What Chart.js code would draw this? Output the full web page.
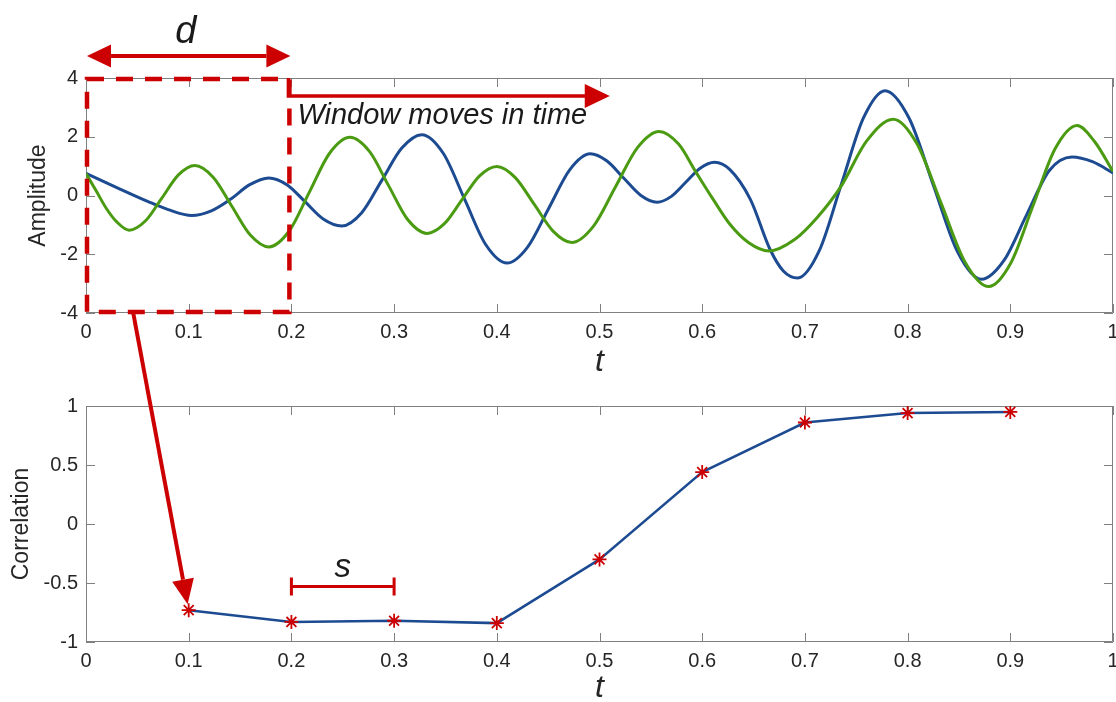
<!DOCTYPE html>
<html>
<head>
<meta charset="utf-8">
<script src="https://cdn.jsdelivr.net/npm/chart.js@4.4.1/dist/chart.umd.min.js"></script>
<style>
  html, body { margin: 0; padding: 0; background: #fff; }
  #wrap { position: relative; width: 1116px; height: 702px; overflow: hidden; }
  #wrap canvas { position: absolute; left: 0; }
  #ampChart { top: 0; }
  #corrChart { top: 380px; }
  #overlay { top: 0; pointer-events: none; }
</style>
</head>
<body>
<div id="wrap">
  <canvas id="ampChart" width="1116" height="380"></canvas>
  <canvas id="corrChart" width="1116" height="322"></canvas>
  <canvas id="overlay" width="1116" height="702"></canvas>
</div>
<script>
// tick labels
const tTicks = [0, 0.1, 0.2, 0.3, 0.4, 0.5, 0.6, 0.7, 0.8, 0.9, 1];
const ampTicks = [-4, -2, 0, 2, 4];
const corrTicks = [-1, -0.5, 0, 0.5, 1];

// signal 1 (blue)
const blueT = [0, 0.03, 0.06, 0.08, 0.103, 0.122, 0.141, 0.159, 0.178, 0.196, 0.2135, 0.231, 0.249,
  0.2685, 0.288, 0.3075, 0.327, 0.348, 0.3685, 0.389, 0.41, 0.43, 0.4505, 0.471, 0.491,
  0.507, 0.5235, 0.54, 0.556, 0.57, 0.584, 0.598, 0.612, 0.627, 0.647, 0.666, 0.679, 0.693,
  0.714, 0.7355, 0.757, 0.778, 0.8015, 0.825, 0.8485, 0.872, 0.894, 0.916, 0.938, 0.96, 0.98, 1];
const blueV = [0.75, 0.27, -0.2, -0.48, -0.68, -0.52, -0.12, 0.36, 0.6, 0.36, -0.22, -0.8, -1.04,
  -0.585, 0.515, 1.615, 2.07, 1.43, -0.115, -1.66, -2.3, -1.755, -0.44, 0.875, 1.42,
  1.18, 0.595, 0.01, -0.23, -0.03, 0.45, 0.93, 1.13, 0.88, -0.14, -1.83, -2.57, -2.81,
  -1.88, 0.38, 2.64, 3.57, 2.63, 0.36, -1.91, -2.85, -2.2, -0.65, 0.85, 1.31, 1.15, 0.77];

// signal 2 (green)
const greenT = [0, 0.01, 0.02, 0.03, 0.042, 0.058, 0.074, 0.09, 0.106, 0.124, 0.142, 0.16, 0.178,
  0.198, 0.2175, 0.237, 0.257, 0.276, 0.2945, 0.313, 0.332, 0.349, 0.366, 0.383, 0.4,
  0.418, 0.4365, 0.455, 0.473, 0.494, 0.5155, 0.537, 0.558, 0.577, 0.594, 0.611, 0.627, 0.645,
  0.665, 0.69, 0.712, 0.735, 0.76, 0.786, 0.809, 0.8325, 0.856, 0.879, 0.9005, 0.922,
  0.9435, 0.965, 0.982, 1];
const greenV = [0.75, 0.15, -0.45, -0.9, -1.18, -0.86, -0.08, 0.7, 1.02, 0.615, -0.365, -1.345, -1.75,
  -1.2, 0.115, 1.43, 1.98, 1.5, 0.345, -0.81, -1.29, -0.96, -0.15, 0.66, 0.99,
  0.61, -0.305, -1.22, -1.6, -1.05, 0.29, 1.63, 2.18, 1.75, 0.79, -0.15, -0.98, -1.6,
  -1.89, -1.5, -0.75, 0.3, 1.85, 2.6, 1.77, -0.25, -2.27, -3.1, -2.3, -0.36,
  1.58, 2.38, 1.84, 0.82];

// windowed correlation
const windowT = [0.1, 0.2, 0.3, 0.4, 0.5, 0.6, 0.7, 0.8, 0.9];
const corrV = [-0.73, -0.83, -0.82, -0.84, -0.30, 0.44, 0.86, 0.94, 0.95];

const FONT = "'Helvetica Neue', Helvetica, Arial, sans-serif";
const TEXT = '#262626';
const AXIS = '#808080';
const BLUE = '#1d4b91';
const GREEN = '#4b9b12';
const RED = '#cc0000';

const toPoints = (xs, ys) => xs.map((x, i) => ({ x, y: ys[i] }));

// box round the axes with ticks pointing inwards
const boxTicks = {
  id: 'boxTicks',
  beforeDatasetsDraw(chart) {
    const { ctx, chartArea: a, scales: { x, y } } = chart;
    const len = 9;
    ctx.save();
    ctx.strokeStyle = AXIS;
    ctx.lineWidth = 1;
    ctx.beginPath();
    ctx.rect(a.left + 0.5, a.top + 0.5, a.right - a.left - 1, a.bottom - a.top - 1);
    x.ticks.forEach((t) => {
      const px = Math.round(x.getPixelForValue(t.value)) + 0.5;
      ctx.moveTo(px, a.bottom); ctx.lineTo(px, a.bottom - len);
      ctx.moveTo(px, a.top); ctx.lineTo(px, a.top + len);
    });
    y.ticks.forEach((t) => {
      const py = Math.round(y.getPixelForValue(t.value)) + 0.5;
      ctx.moveTo(a.left, py); ctx.lineTo(a.left + len, py);
      ctx.moveTo(a.right, py); ctx.lineTo(a.right - len, py);
    });
    ctx.stroke();
    ctx.restore();
  },
};

function xAxis(height, titlePad) {
  return {
    type: 'linear',
    min: 0,
    max: 1,
    afterBuildTicks: (s) => { s.ticks = tTicks.map((value) => ({ value })); },
    afterFit: (s) => { s.height = height; s.paddingLeft = 0; s.paddingRight = 0; },
    grid: { display: false, drawTicks: false },
    border: { display: false },
    ticks: {
      color: TEXT, padding: 7, maxRotation: 0, autoSkip: false,
      font: { family: FONT, size: 20 },
      callback: (v) => String(v),
    },
    title: {
      display: true, text: 't', color: TEXT,
      font: { family: FONT, size: 32, style: 'italic', lineHeight: 1 },
      padding: { top: 0, bottom: titlePad },
    },
  };
}

function yAxis(min, max, list, text, titlePad) {
  return {
    type: 'linear',
    min,
    max,
    afterBuildTicks: (s) => { s.ticks = list.map((value) => ({ value })); },
    afterFit: (s) => { s.width = 86; s.paddingTop = 0; s.paddingBottom = 0; },
    grid: { display: false, drawTicks: false },
    border: { display: false },
    ticks: {
      color: TEXT, padding: 8,
      font: { family: FONT, size: 20 },
      callback: (v) => String(v),
    },
    title: {
      display: true, text, color: TEXT,
      font: { family: FONT, size: 23, lineHeight: 1.2 },
      padding: { top: titlePad, bottom: 0 },
    },
  };
}

const common = {
  responsive: false,
  animation: false,
  events: [],
  plugins: { legend: { display: false }, tooltip: { enabled: false } },
};

const ampChart = new Chart(document.getElementById('ampChart'), {
  type: 'line',
  data: {
    datasets: [
      {
        data: toPoints(greenT, greenV),
        borderColor: GREEN,
        borderWidth: 3,
        pointRadius: 0,
        cubicInterpolationMode: 'monotone',
      },
      {
        data: toPoints(blueT, blueV),
        borderColor: BLUE,
        borderWidth: 3,
        pointRadius: 0,
        cubicInterpolationMode: 'monotone',
      },
    ],
  },
  options: {
    ...common,
    layout: { autoPadding: false, padding: { top: 78, right: 3, left: 0, bottom: 0 } },
    scales: {
      x: xAxis(67, 2),
      y: yAxis(-4, 4, ampTicks, 'Amplitude', 25),
    },
  },
  plugins: [boxTicks],
});

const corrChart = new Chart(document.getElementById('corrChart'), {
  type: 'line',
  data: {
    datasets: [{
      data: toPoints(windowT, corrV),
      borderColor: BLUE,
      borderWidth: 2.5,
      tension: 0,
      pointStyle: 'star',
      pointRadius: 7,
      pointBorderWidth: 1.8,
      pointBorderColor: RED,
      pointBackgroundColor: RED,
    }],
  },
  options: {
    ...common,
    layout: { autoPadding: false, padding: { top: 26, right: 3, left: 0, bottom: 0 } },
    scales: {
      x: xAxis(60, -2),
      y: yAxis(-1, 1, corrTicks, 'Correlation', 8),
    },
  },
  plugins: [boxTicks],
});

// annotations: window width d, window movement, mapping arrow, step s
function arrowHead(ctx, x1, y1, x2, y2, len, half) {
  const ang = Math.atan2(y2 - y1, x2 - x1);
  const bx = x2 - len * Math.cos(ang);
  const by = y2 - len * Math.sin(ang);
  ctx.beginPath();
  ctx.moveTo(x2, y2);
  ctx.lineTo(bx + half * Math.sin(ang), by - half * Math.cos(ang));
  ctx.lineTo(bx - half * Math.sin(ang), by + half * Math.cos(ang));
  ctx.closePath();
  ctx.fill();
  return [bx, by];
}

function drawOverlay() {
  const ctx = document.getElementById('overlay').getContext('2d');
  const ax = ampChart.scales.x;
  const ay = ampChart.scales.y;
  const cx = corrChart.scales.x;
  const cy = corrChart.scales.y;
  const off = 380;

  const x0 = ax.getPixelForValue(0);
  const x2 = ax.getPixelForValue(0.2);
  const top = ay.getPixelForValue(4);
  const bot = ay.getPixelForValue(-4);

  ctx.save();
  ctx.strokeStyle = RED;
  ctx.fillStyle = RED;

  // d: double arrow
  const dy = top - 22;
  const mid = (x0 + x2) / 2;
  ctx.lineWidth = 4;
  const [lx] = arrowHead(ctx, mid, dy, x0 + 1, dy, 24, 11.5);
  const [rx] = arrowHead(ctx, mid, dy, x2 - 1, dy, 24, 11.5);
  ctx.beginPath(); ctx.moveTo(lx, dy); ctx.lineTo(rx, dy); ctx.stroke();

  // dashed window
  ctx.lineWidth = 4.5;
  ctx.setLineDash([17, 12]);
  ctx.strokeRect(x0 + 1, top + 1, x2 - x0 - 3, bot - top - 2);
  ctx.setLineDash([]);

  // window moves in time
  ctx.lineWidth = 3.5;
  const wy = top + 18;
  const wx = ax.getPixelForValue(0.51);
  const [hx] = arrowHead(ctx, x2 - 3, wy, wx, wy, 25, 12);
  ctx.beginPath();
  ctx.moveTo(x2 - 3, top);
  ctx.lineTo(x2 - 3, wy);
  ctx.lineTo(hx + 1, wy);
  ctx.stroke();

  // arrow to first correlation value
  const sx = ax.getPixelForValue(0.046);
  const px = cx.getPixelForValue(windowT[0]);
  const py = cy.getPixelForValue(corrV[0]) + off;
  const ang = Math.atan2(py - bot, px - sx);
  const tx = px - 6 * Math.cos(ang);
  const ty = py - 6 * Math.sin(ang);
  ctx.lineWidth = 4;
  const [ex, ey] = arrowHead(ctx, sx, bot, tx, ty, 25, 11);
  ctx.beginPath(); ctx.moveTo(sx, bot); ctx.lineTo(ex, ey); ctx.stroke();

  // s bracket
  const s1 = cx.getPixelForValue(0.2);
  const s2 = cx.getPixelForValue(0.3);
  const sy = cy.getPixelForValue(-0.53) + off;
  ctx.lineWidth = 3;
  ctx.beginPath();
  ctx.moveTo(s1, sy); ctx.lineTo(s2, sy);
  ctx.moveTo(s1, sy - 9); ctx.lineTo(s1, sy + 9);
  ctx.moveTo(s2, sy - 9); ctx.lineTo(s2, sy + 9);
  ctx.stroke();

  // texts
  ctx.fillStyle = '#1a1a1a';
  ctx.textAlign = 'center';
  ctx.textBaseline = 'alphabetic';
  ctx.font = `italic 38px ${FONT}`;
  ctx.fillText('d', mid - 3, top - 35);
  ctx.font = `italic 33px ${FONT}`;
  ctx.fillText('s', (s1 + s2) / 2, sy - 10);
  ctx.textAlign = 'left';
  ctx.font = `italic 29px ${FONT}`;
  ctx.fillText('Window moves in time', x2 + 6, top + 46);
  ctx.restore();
}

drawOverlay();
</script>
</body>
</html>
